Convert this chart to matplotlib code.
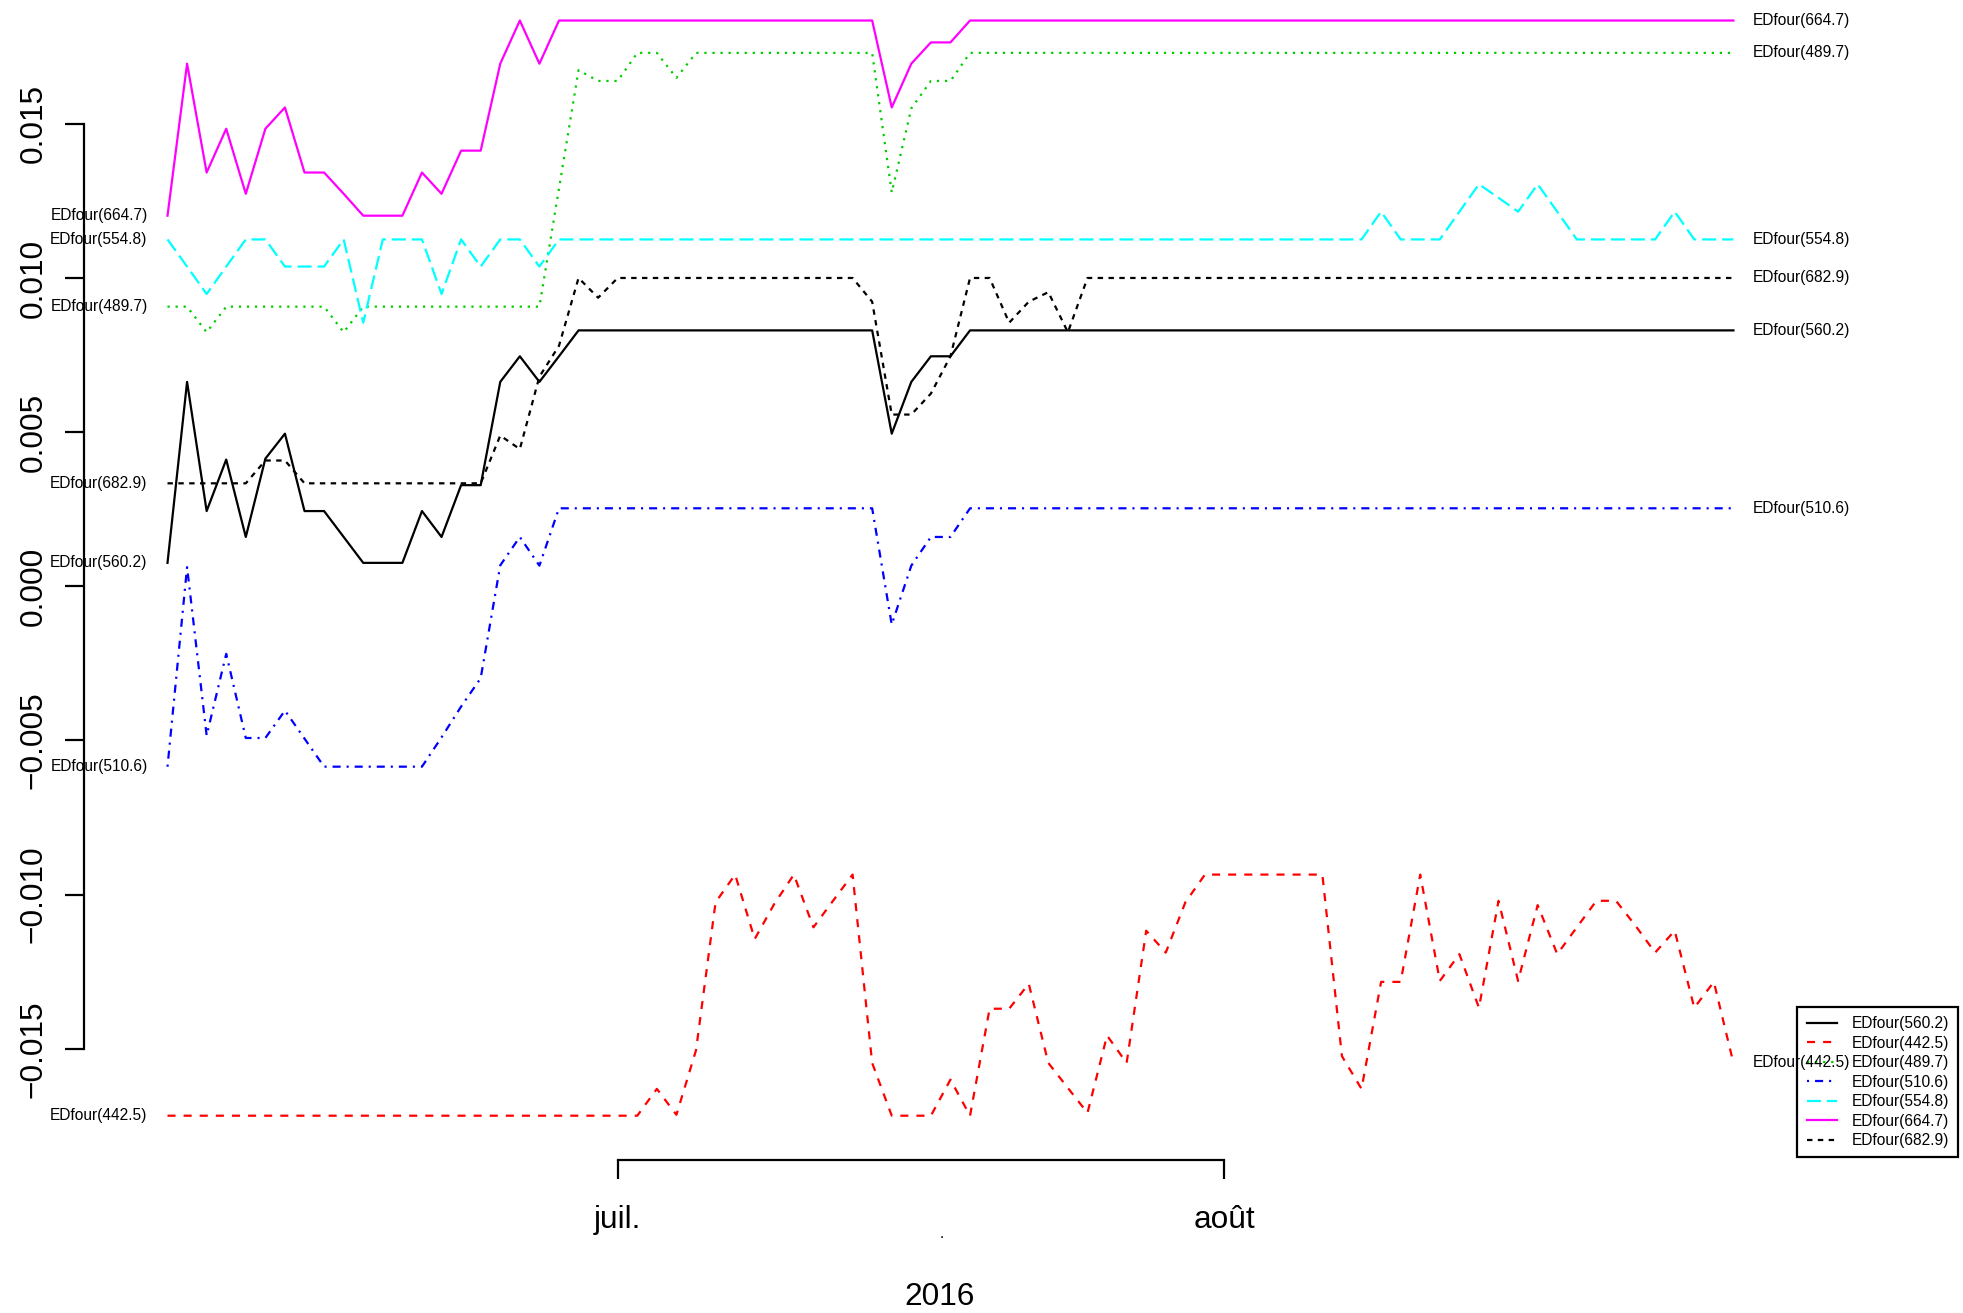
import matplotlib
matplotlib.use('Agg')
import matplotlib.pyplot as plt
import matplotlib.dates as mdates
import numpy as np

plt.rcParams['font.family'] = ['Liberation Sans', 'DejaVu Sans']
plt.rcParams['lines.scale_dashes'] = False

# daily values, 2016-06-08 .. 2016-08-27
dates = np.arange('2016-06-08', '2016-08-28', dtype='datetime64[D]')

ed_560 = ([0.00076, 0.00663, 0.00244, 0.00411, 0.0016, 0.00414, 0.00495, 0.00244,
           0.00244, 0.0016, 0.00076, 0.00076, 0.00076, 0.00244, 0.0016, 0.00328,
           0.00328, 0.00663, 0.00746, 0.00663, 0.00746] + [0.0083] * 16 +
          [0.00495, 0.00663, 0.00746, 0.00746] + [0.0083] * 40)

ed_442 = ([-0.01717] * 25 +
          [-0.0163, -0.01714, -0.01505, -0.01025, -0.00935, -0.01144, -0.0103,
           -0.00935, -0.01106, -0.0102, -0.00935, -0.01546, -0.01717, -0.01717,
           -0.01717, -0.016, -0.01717, -0.0137, -0.0137, -0.01289, -0.01546,
           -0.01627, -0.01708, -0.01457, -0.01546, -0.01117, -0.01188, -0.01025] +
          [-0.00935] * 7 +
          [-0.01524, -0.0163, -0.01283, -0.01283, -0.00935, -0.0128, -0.01193,
           -0.01367, -0.0102, -0.0128, -0.01034, -0.01193, -0.01106, -0.0102,
           -0.0102, -0.01101, -0.01188, -0.01117, -0.01367, -0.01283, -0.01546])

ed_489 = ([0.00907, 0.00907, 0.00824] + [0.00907] * 6 + [0.00824] + [0.00907] * 10 +
          [0.0129, 0.01674, 0.01639, 0.01639, 0.0173, 0.0173, 0.01649] + [0.0173] * 10 +
          [0.01277, 0.0155, 0.01639, 0.01639] + [0.0173] * 40)

ed_510 = ([-0.00585, 0.00062, -0.00484, -0.00219, -0.00492, -0.00492, -0.00403,
           -0.00494] + [-0.00585] * 6 +
          [-0.0049, -0.0039, -0.00298, 0.00068, 0.0016, 0.00067] + [0.00253] * 17 +
          [-0.00124, 0.00067, 0.0016, 0.0016] + [0.00253] * 40)

ed_554 = ([0.01125, 0.01037, 0.00948, 0.01037, 0.01125, 0.01125, 0.01037, 0.01037,
           0.01037, 0.01125, 0.00855, 0.01125, 0.01125, 0.01125, 0.00948, 0.01125,
           0.01037, 0.01125, 0.01125, 0.01037] + [0.01125] * 42 +
          [0.01215, 0.01125, 0.01125, 0.01125, 0.01215, 0.01304, 0.0126, 0.01215,
           0.01304, 0.01215, 0.01125, 0.01125, 0.01125, 0.01125, 0.01125, 0.01215,
           0.01125, 0.01125, 0.01125])

ed_664 = ([0.01202, 0.01695, 0.01342, 0.01484, 0.01273, 0.01484, 0.01553, 0.01342,
           0.01342, 0.01273, 0.01202, 0.01202, 0.01202, 0.01342, 0.01273, 0.01413,
           0.01413, 0.01695, 0.01835, 0.01695] + [0.01835] * 17 +
          [0.01553, 0.01695, 0.01764, 0.01764] + [0.01835] * 40)

ed_682 = ([0.00334] * 5 + [0.00408, 0.00408] + [0.00334] * 10 +
          [0.00489, 0.00445, 0.0068, 0.0078, 0.01, 0.00936] + [0.01] * 13 +
          [0.00923, 0.00557, 0.00557, 0.00625, 0.00746, 0.01, 0.01, 0.00855,
           0.00923, 0.00954, 0.00824] + [0.01] * 34)

names = ['EDfour(560.2)', 'EDfour(442.5)', 'EDfour(489.7)', 'EDfour(510.6)',
         'EDfour(554.8)', 'EDfour(664.7)', 'EDfour(682.9)']
series = [ed_560, ed_442, ed_489, ed_510, ed_554, ed_664, ed_682]
colors = ['black', 'red', '#00cd00', 'blue', 'cyan', 'magenta', 'black']
# dash patterns in points (R lty 1..5 look)
styles = ['-', (0, (5.8, 5.8)), (0, (1.6, 4.2)), (0, (1.5, 4.3, 5.8, 4.3)),
          (0, (10.1, 4.3)), '-', (0, (3.9, 3.9))]

W, H = 1963, 1313
fig = plt.figure(figsize=(W / 100, H / 100), dpi=100)
ax = fig.add_axes([0, 0, 1, 1])
ax.patch.set_visible(False)

x = mdates.date2num(dates)
ppd = 19.574          # pixels per day
x0_px = 167.5
y0_px, ppu = 586.3, 30833.0
ax.set_xlim(x[0] - x0_px / ppd, x[0] + (W - x0_px) / ppd)
ax.set_ylim(-(H - y0_px) / ppu, y0_px / ppu)

lw = 1.6
lines = []
for s, c, ls in zip(series, colors, styles):
    ln, = ax.plot(x, s, color=c, linestyle=ls, linewidth=lw)
    lines.append(ln)

fs_small = 11.2
for s, nm in zip(series, names):
    ax.text(x[0] - 20 / ppd, s[0], nm, ha='right', va='center',
            fontsize=fs_small, zorder=6)
    ax.text(x[-1] + 19.5 / ppd, s[-1], nm, ha='left', va='center',
            fontsize=fs_small, zorder=6)

# axes
for sp in ['top', 'right']:
    ax.spines[sp].set_visible(False)
ax.spines['left'].set_position(('axes', 84.2 / W))
ax.spines['left'].set_bounds(-0.015, 0.015)
ax.spines['bottom'].set_position(('axes', (H - 1160) / H))
jul = mdates.date2num(np.datetime64('2016-07-01'))
aug = mdates.date2num(np.datetime64('2016-08-01'))
ax.spines['bottom'].set_bounds(jul, aug)
for sp in ['left', 'bottom']:
    ax.spines[sp].set_linewidth(lw)

yt = [-0.015, -0.010, -0.005, 0.0, 0.005, 0.010, 0.015]
ax.set_yticks(yt)
ax.set_yticklabels([('%.3f' % v).replace('-', '\u2212') for v in yt])
ax.set_xticks([jul, aug])
ax.set_xticklabels(['juil.', 'août'])
ax.tick_params(axis='both', length=13.7, width=lw, labelsize=22.8)
ax.tick_params(axis='y', pad=12)
ax.tick_params(axis='x', pad=18.5)
plt.setp(ax.get_yticklabels(), rotation=90, va='center', ha='right')

fig.text(942 / W, 1 - 1238 / H, '.', ha='center', va='baseline', fontsize=fs_small)
fig.text(940 / W, 1 - 1305 / H, '2016', ha='center', va='baseline', fontsize=22.8)

leg = ax.legend(lines, names, loc='upper left',
                bbox_to_anchor=(1797.3 / W, 1 - 1006.7 / H),
                bbox_transform=fig.transFigure, borderaxespad=0,
                fontsize=fs_small, handlelength=1.97, handletextpad=0.9,
                labelspacing=0.29, borderpad=0.6, fancybox=False,
                edgecolor='black', framealpha=1)
leg.get_frame().set_linewidth(lw)
leg.set_zorder(2)

fig.savefig('out.png', dpi=100)
